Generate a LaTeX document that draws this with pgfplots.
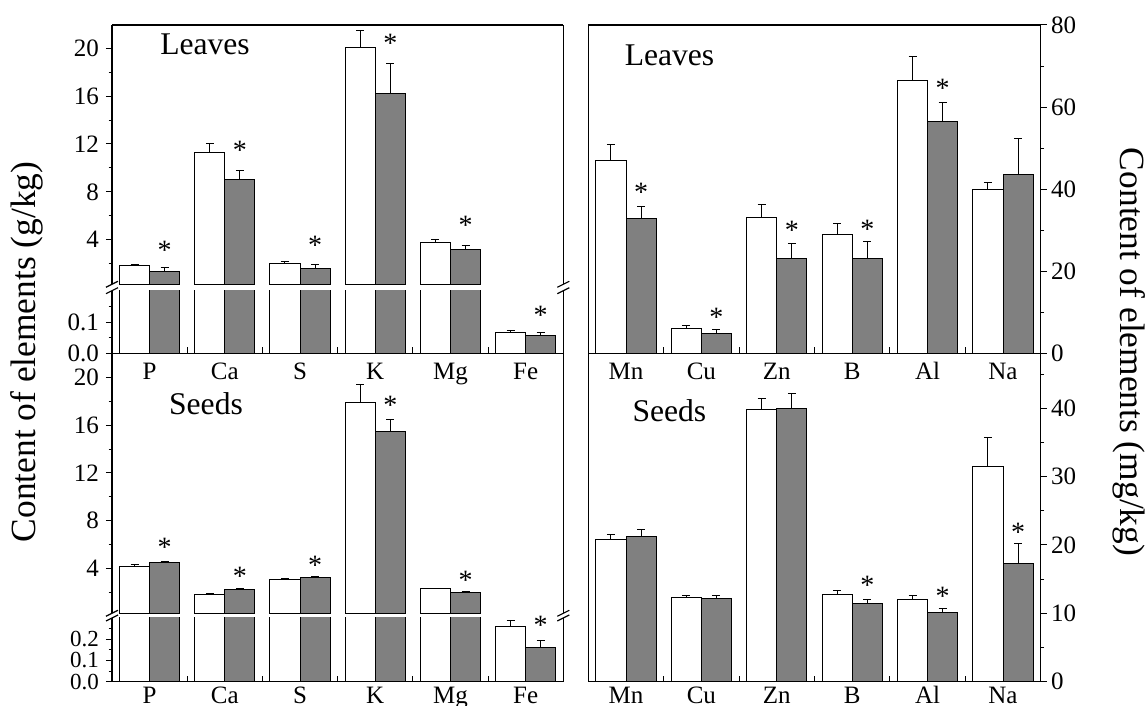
\documentclass[border=0pt]{standalone}
\usepackage{fontspec}
\setmainfont{Liberation Serif}
\usepackage{pgfplots}
\pgfplotsset{compat=1.18}
\definecolor{barg}{RGB}{128,128,128}
\pgfplotsset{
  base/.style={
    scale only axis, anchor=south west,
    xmin=-0.5, xmax=5.5,
    axis line style={draw=none},
    tick align=outside,
    major tick length=3pt, minor tick length=1.7pt,
    tick style={black, line width=0.5pt},
    xtick style={yshift=3pt},
    /pgf/number format/assume math mode=true,
    tick label style={font=\fontsize{12.5}{14}\selectfont, inner sep=0pt},
    xtick pos=left,
  },
  lefty/.style={ytick pos=left, yticklabel style={anchor=east, xshift=-3.35pt}},
  righty/.style={ytick pos=right, yticklabel pos=right, yticklabel style={anchor=west, xshift=2pt}},
  nox/.style={xtick=\empty},
  catx/.style={xtick={-0.5,0.5,...,5.5}, x tick label as interval, xticklabels={#1}},
  onedec/.style={yticklabel style={/pgf/number format/fixed, /pgf/number format/fixed zerofill, /pgf/number format/precision=1}},
  wbar/.style={ybar, bar width=0.4, bar shift=0, fill=white, draw=black, line width=0.5pt,
    error bars/.cd, y dir=plus, y explicit, error bar style={line width=0.5pt, black},
    error mark options={rotate=90, mark size=2pt, line width=0.5pt, black}},
  gbar/.style={ybar, bar width=0.4, bar shift=0, fill=barg, draw=black, line width=0.5pt,
    error bars/.cd, y dir=plus, y explicit, error bar style={line width=0.5pt, black},
    error mark options={rotate=90, mark size=2pt, line width=0.5pt, black}},
  star/.style={draw=none, nodes near coords={*}, nodes near coords style={anchor=center, inner sep=0pt, font=\fontsize{14}{14}\selectfont, text=black}},
}
\begin{document}
\begin{tikzpicture}
\path[use as bounding box] (0,0) rectangle (574pt,353pt);
% ---------- top-left (leaves, g/kg), upper section ----------
\begin{axis}[base, lefty, nox, at={(56pt,210.85pt)}, width=225.65pt, height=129.65pt,
  ymin=0.27, ymax=21.95, ytick={4,8,12,16,20}, minor ytick={2,6,10,14,18}]
\addplot[wbar] coordinates {(-0.2,1.8) +- (0,0.15) (0.8,11.3) +- (0,0.7) (1.8,2.05) +- (0,0.12) (2.8,20.05) +- (0,1.4) (3.8,3.8) +- (0,0.22)};
\addplot[gbar] coordinates {(0.2,1.35) +- (0,0.3) (1.2,9.0) +- (0,0.8) (2.2,1.6) +- (0,0.3) (3.2,16.2) +- (0,2.5) (4.2,3.2) +- (0,0.28)};
\addplot[star] coordinates {(0.2,3.14) (1.2,11.44) (2.2,3.55) (3.2,20.42) (4.2,5.23)};
\end{axis}
% ---------- top-left, lower section ----------
\begin{axis}[base, lefty, onedec, catx={P,Ca,S,K,Mg,Fe}, at={(56pt,176.25pt)}, width=225.65pt, height=31.4pt,
  ymin=0, ymax=0.2, ytick={0,0.1}, minor ytick={0.05,0.15},
  xticklabel style={anchor=base, yshift=-9.9pt}]
\addplot[wbar] coordinates {(-0.2,1.8) (0.8,11.3) (1.8,2.05) (2.8,20.05) (3.8,3.8)};
\addplot[gbar] coordinates {(0.2,1.35) (1.2,9.0) (2.2,1.6) (3.2,16.2) (4.2,3.2)};
\addplot[wbar] coordinates {(4.8,0.066) +- (0,0.008)};
\addplot[gbar] coordinates {(5.2,0.056) +- (0,0.012)};
\addplot[star] coordinates {(5.2,0.123)};
\end{axis}
% ---------- bottom-left (seeds, g/kg), upper section ----------
\begin{axis}[base, lefty, nox, at={(56pt,46.35pt)}, width=225.65pt, height=129.9pt,
  ymin=0.22, ymax=22.03, ytick={4,8,12,16,20}, minor ytick={2,6,10,14,18}]
\addplot[wbar] coordinates {(-0.2,4.15) +- (0,0.17) (0.8,1.8) +- (0,0.1) (1.8,3.05) +- (0,0.05) (2.8,17.9) +- (0,1.55) (3.8,2.28) +- (0,0.04)};
\addplot[gbar] coordinates {(0.2,4.5) +- (0,0.1) (1.2,2.2) +- (0,0.1) (2.2,3.25) +- (0,0.05) (3.2,15.45) +- (0,1.0) (4.2,2.0) +- (0,0.05)};
\addplot[star] coordinates {(0.2,5.77) (1.2,3.33) (2.2,4.23) (3.2,17.68) (4.2,2.97)};
\end{axis}
% ---------- bottom-left, lower section ----------
\begin{axis}[base, lefty, onedec, catx={P,Ca,S,K,Mg,Fe}, at={(56pt,12.15pt)}, width=225.65pt, height=31.85pt,
  ymin=0, ymax=0.3, ytick={0,0.1,0.2}, minor ytick={0.05,0.15,0.25},
  yticklabel style={font=\fontsize{11.5}{12}\selectfont},
  xticklabel style={anchor=base, yshift=-7.8pt, font=\fontsize{12.5}{14}\selectfont}]
\addplot[wbar] coordinates {(-0.2,4.15) (0.8,1.8) (1.8,3.05) (2.8,17.9) (3.8,2.28)};
\addplot[gbar] coordinates {(0.2,4.5) (1.2,2.2) (2.2,3.25) (3.2,15.45) (4.2,2.0)};
\addplot[wbar] coordinates {(4.8,0.258) +- (0,0.03)};
\addplot[gbar] coordinates {(5.2,0.16) +- (0,0.033)};
\addplot[star] coordinates {(5.2,0.264)};
\end{axis}
% ---------- top-right (leaves, mg/kg) ----------
\begin{axis}[base, righty, catx={Mn,Cu,Zn,B,Al,Na}, at={(294.15pt,176.25pt)}, width=226.2pt, height=164.25pt,
  ymin=0, ymax=80, ytick={0,20,40,60,80}, minor ytick={10,30,50,70},
  xticklabel style={anchor=base, yshift=-9.9pt}]
\addplot[wbar] coordinates {(-0.2,47) +- (0,3.9) (0.8,6.1) +- (0,0.6) (1.8,33.2) +- (0,3.0) (2.8,28.9) +- (0,2.8) (3.8,66.4) +- (0,5.9) (4.8,39.9) +- (0,1.8)};
\addplot[gbar] coordinates {(0.2,32.8) +- (0,3.1) (1.2,4.9) +- (0,1.0) (2.2,23.2) +- (0,3.7) (3.2,23.2) +- (0,4.0) (4.2,56.6) +- (0,4.5) (5.2,43.5) +- (0,8.9)};
\addplot[star] coordinates {(0.2,39.3) (1.2,8.8) (2.2,29.9) (3.2,30.3) (4.2,64.5)};
\end{axis}
% ---------- bottom-right (seeds, mg/kg) ----------
\begin{axis}[base, righty, catx={Mn,Cu,Zn,B,Al,Na}, at={(294.15pt,12.15pt)}, width=226.2pt, height=164.1pt,
  ymin=0, ymax=48, ytick={0,10,20,30,40}, minor ytick={5,15,25,35,45},
  xticklabel style={anchor=base, yshift=-7.8pt}]
\addplot[wbar] coordinates {(-0.2,20.75) +- (0,0.75) (0.8,12.3) +- (0,0.25) (1.8,39.75) +- (0,1.65) (2.8,12.8) +- (0,0.6) (3.8,12.0) +- (0,0.55) (4.8,31.5) +- (0,4.2)};
\addplot[gbar] coordinates {(0.2,21.3) +- (0,1.0) (1.2,12.2) +- (0,0.35) (2.2,40.0) +- (0,2.1) (3.2,11.4) +- (0,0.6) (4.2,10.1) +- (0,0.6) (5.2,17.25) +- (0,2.9)};
\addplot[star] coordinates {(3.2,14.1) (4.2,12.54) (5.2,21.9)};
\end{axis}
% ---------- frames ----------
\begin{scope}[line width=0.6pt, black]
\draw (56pt,340.5pt) -- (281.65pt,340.5pt);
\draw (56pt,176.25pt) -- (281.65pt,176.25pt);
\draw (56pt,12.15pt) -- (281.65pt,12.15pt);
\foreach \X in {56,281.65}{
  \draw (\X pt,340.5pt) -- (\X pt,210.85pt);
  \draw (\X pt,207.65pt) -- (\X pt,46.35pt);
  \draw (\X pt,44pt) -- (\X pt,12.15pt);
  \foreach \Y in {210.85,207.65,46.35,44}{
    \draw (\X pt-3pt,\Y pt-1.5pt) -- (\X pt+3pt,\Y pt+1.5pt);
  }
}
\draw (294.15pt,12.15pt) rectangle (520.35pt,340.5pt);
\draw (294.15pt,176.25pt) -- (520.35pt,176.25pt);
\end{scope}
% ---------- texts ----------
\node[font=\fontsize{15.8}{16}\selectfont] at (102.5pt,331pt) {Leaves};
\node[font=\fontsize{15.8}{16}\selectfont] at (334.75pt,325.5pt) {Leaves};
\node[font=\fontsize{15.8}{16}\selectfont] at (103pt,151pt) {Seeds};
\node[font=\fontsize{15.8}{16}\selectfont] at (334.7pt,147.5pt) {Seeds};
\node[font=\fontsize{17.7}{18}\selectfont, rotate=90, inner sep=0pt] at (13.5pt,177pt) {Content of elements (g/kg)};
\node[font=\fontsize{17.7}{18}\selectfont, rotate=-90, inner sep=0pt] at (564.5pt,177pt) {Content of elements (mg/kg)};
\end{tikzpicture}
\end{document}
